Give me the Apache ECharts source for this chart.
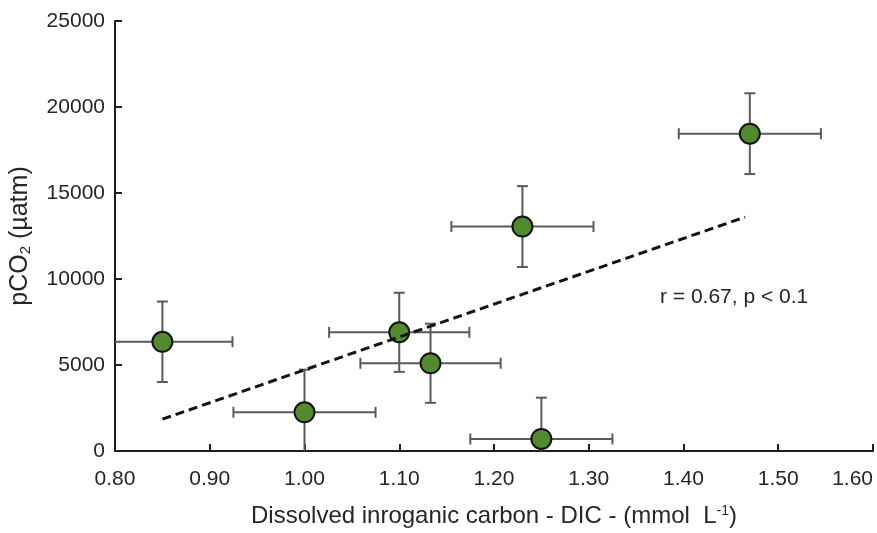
<!DOCTYPE html>
<html>
<head>
<meta charset="utf-8">
<script src="https://cdn.jsdelivr.net/npm/echarts@6/dist/echarts.min.js"></script>
<style>
html, body { margin: 0; padding: 0; background: #fff; }
#main { width: 877px; height: 533px; }
</style>
</head>
<body>
<div id="main"></div>
<script>
// points: DIC (mmol/L) vs pCO2 (uatm)
let dicValues = [0.85, 1.00, 1.10, 1.133, 1.25, 1.23, 1.47];
let pco2Values = [6350, 2250, 6900, 5100, 700, 13050, 18450];
let dicErrors = [0.074, 0.075, 0.074, 0.074, 0.075, 0.075, 0.075];
let pco2Errors = [2340, 2480, 2300, 2300, 2400, 2350, 2350];

// regression line end points
let trendDic = [0.85, 1.465];
let trendPco2 = [1850, 13600];

// axis ticks: min, max, step
let xTicks = [0.80, 1.60, 0.10];
let yTicks = [0, 25000, 5000];

let textColor = '#262626';
let axisColor = '#1e1e1e';

function renderErrorBars(params, api) {
    let x = api.value(0), y = api.value(1), ex = api.value(2), ey = api.value(3);
    let c = api.coord([x, y]);
    let left = api.coord([x - ex, y]);
    let right = api.coord([x + ex, y]);
    let top = api.coord([x, y + ey]);
    let bottom = api.coord([x, y - ey]);
    let cap = 5.5;
    let style = { stroke: '#5a5a5a', lineWidth: 2 };
    return {
        type: 'group',
        children: [
            { type: 'line', shape: { x1: left[0], y1: c[1], x2: right[0], y2: c[1] }, style: style },
            { type: 'line', shape: { x1: c[0], y1: top[1], x2: c[0], y2: bottom[1] }, style: style },
            { type: 'line', shape: { x1: left[0], y1: c[1] - cap, x2: left[0], y2: c[1] + cap }, style: style },
            { type: 'line', shape: { x1: right[0], y1: c[1] - cap, x2: right[0], y2: c[1] + cap }, style: style },
            { type: 'line', shape: { x1: c[0] - cap, y1: top[1], x2: c[0] + cap, y2: top[1] }, style: style },
            { type: 'line', shape: { x1: c[0] - cap, y1: bottom[1], x2: c[0] + cap, y2: bottom[1] }, style: style }
        ]
    };
}

let chart = echarts.init(document.getElementById('main'));

let pointData = dicValues.map(function (v, i) { return [v, pco2Values[i]]; });
let errorData = dicValues.map(function (v, i) { return [v, pco2Values[i], dicErrors[i], pco2Errors[i]]; });
let trendData = trendDic.map(function (v, i) { return [v, trendPco2[i]]; });

let option = {
    animation: false,
    backgroundColor: '#fff',
    textStyle: { fontFamily: 'Liberation Sans, Arial, sans-serif' },
    grid: {
        left: 113,
        right: 4,
        top: 21,
        bottom: 79
    },
    xAxis: {
        type: 'value',
        min: xTicks[0],
        max: xTicks[1],
        interval: xTicks[2],
        name: 'Dissolved inroganic carbon - DIC - (mmol  L{sup|-1})',
        nameLocation: 'middle',
        nameGap: 53,
        nameTextStyle: {
            color: textColor,
            fontSize: 24,
            rich: {
                sup: { fontSize: 14, verticalAlign: 'top', padding: [0, 0, 9, 0], color: textColor }
            }
        },
        axisLine: { lineStyle: { color: axisColor, width: 2 } },
        axisTick: { inside: true, length: 7, lineStyle: { color: axisColor, width: 2 } },
        splitLine: { show: false },
        axisLabel: {
            color: textColor,
            fontSize: 21,
            margin: 18,
            alignMaxLabel: 'right',
            formatter: function (v) { return v.toFixed(2); }
        }
    },
    yAxis: {
        type: 'value',
        min: yTicks[0],
        max: yTicks[1],
        interval: yTicks[2],
        name: 'pCO{sub|2} (µatm)',
        nameLocation: 'middle',
        nameGap: 82,
        nameTextStyle: {
            color: textColor,
            fontSize: 25,
            rich: {
                sub: { fontSize: 15, verticalAlign: 'bottom', color: textColor }
            }
        },
        axisLine: { show: true, lineStyle: { color: axisColor, width: 2 } },
        axisTick: { show: true, inside: true, length: 7, lineStyle: { color: axisColor, width: 2 } },
        splitLine: { show: false },
        axisLabel: {
            color: textColor,
            fontSize: 21,
            margin: 10,
            formatter: function (v) { return String(v); }
        }
    },
    graphic: [{
        type: 'text',
        left: 660,
        top: 287,
        style: {
            text: 'r = 0.67, p < 0.1',
            fill: textColor,
            font: '21px "Liberation Sans", Arial, sans-serif'
        }
    }],
    series: [
        {
            name: 'errors',
            type: 'custom',
            renderItem: renderErrorBars,
            data: errorData,
            encode: { x: 0, y: 1 },
            clip: true,
            z: 2,
            silent: true
        },
        {
            name: 'pCO2',
            type: 'scatter',
            data: pointData,
            symbol: 'circle',
            symbolSize: 20,
            itemStyle: { color: '#518a2f', borderColor: '#141414', borderWidth: 2, opacity: 1 },
            z: 3
        },
        {
            name: 'trend',
            type: 'line',
            data: trendData,
            showSymbol: false,
            symbol: 'none',
            lineStyle: { color: '#141414', width: 3, type: [9, 5] },
            z: 4
        }
    ]
};

if (option && typeof option === 'object') {
    chart.setOption(option, true);
}
</script>
</body>
</html>
